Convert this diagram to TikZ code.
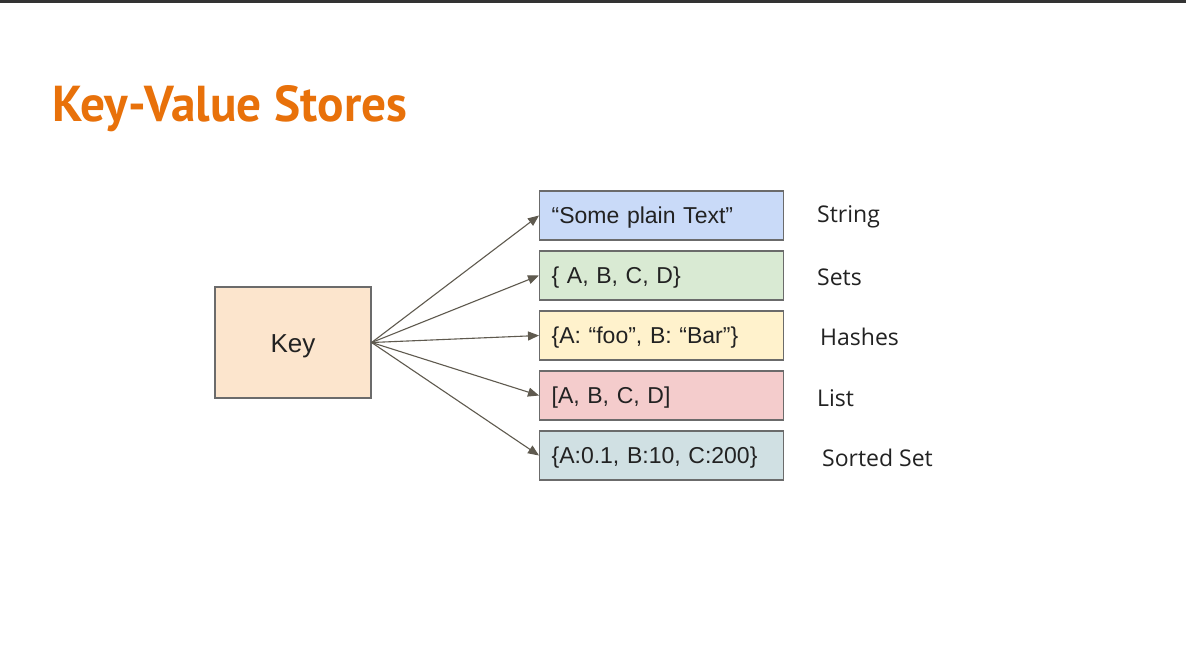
\documentclass[tikz,border=0pt]{standalone}
\usepackage{fontspec}
\setmainfont{Liberation Sans}
\newfontfamily\titlefont{PT Sans}
\newfontfamily\labelfont{Open Sans}
\usetikzlibrary{arrows.meta}
\definecolor{titleorange}{HTML}{E8710A}
\definecolor{edgegray}{HTML}{6B6B6B}
\definecolor{arrowgray}{HTML}{5F5A4F}
\definecolor{keyfill}{HTML}{FCE5CD}
\definecolor{cblue}{HTML}{C9DAF8}
\definecolor{cgreen}{HTML}{D9EAD3}
\definecolor{cyellow}{HTML}{FFF2CC}
\definecolor{cred}{HTML}{F4CCCC}
\definecolor{cslate}{HTML}{D0E0E3}
\definecolor{textdark}{HTML}{222222}
\tikzset{
  valbox/.style={draw=edgegray, line width=1.2pt, minimum width=244pt, minimum height=49pt,
     anchor=west, inner xsep=12pt, text width=220pt, align=left, text height=19pt, text depth=3pt,
     font=\fontsize{23pt}{27pt}\selectfont, text=textdark},
  typelabel/.style={anchor=west, inner sep=0pt, font=\labelfont\fontsize{23pt}{27pt}\selectfont, text=textdark},
  link/.style={draw=arrowgray, line width=1.1pt, -{Triangle[length=11pt,width=9pt]}}
}
\begin{document}
\begin{tikzpicture}[x=1pt,y=-1pt]
\useasboundingbox (0,0) rectangle (1186,654);
\fill[white] (0,0) rectangle (1186,654);
\fill[black!80] (0,0) rectangle (1186,3);
\node[anchor=base west, inner sep=0pt, text=titleorange] (title) at (52,121)
  {\resizebox{355pt}{36pt}{\titlefont\bfseries Key-Value Stores}};
\node[draw=edgegray, line width=1.2pt, fill=keyfill, minimum width=156pt, minimum height=111pt,
  text height=22pt, text depth=3pt,
  font=\fontsize{26pt}{30pt}\selectfont, text=textdark] (key) at (293,342.5) {Key};
\node[valbox, fill=cblue]   (v1) at (539,215.5) {“Some plain Text”};
\node[valbox, fill=cgreen]  (v2) at (539,275.5) {\{ A, B, C, D\}};
\node[valbox, fill=cyellow] (v3) at (539,335.5) {\{A: “foo”, B: “Bar”\}};
\node[valbox, fill=cred]    (v4) at (539,395.5) {[A, B, C, D]};
\node[valbox, fill=cslate]  (v5) at (539,455.5) {\{A:0.1, B:10, C:200\}};
\node[typelabel] (l1) at (817,217) {String};
\node[typelabel] (l2) at (817,277) {Sets};
\node[typelabel] (l3) at (820,337) {Hashes};
\node[typelabel] (l4) at (817,398) {List};
\node[typelabel] (l5) at (822,458) {Sorted Set};
\coordinate (src) at (key.east);
\foreach \i in {1,...,5} { \draw[link] (src) -- (v\i.west); }
\end{tikzpicture}
\end{document}
